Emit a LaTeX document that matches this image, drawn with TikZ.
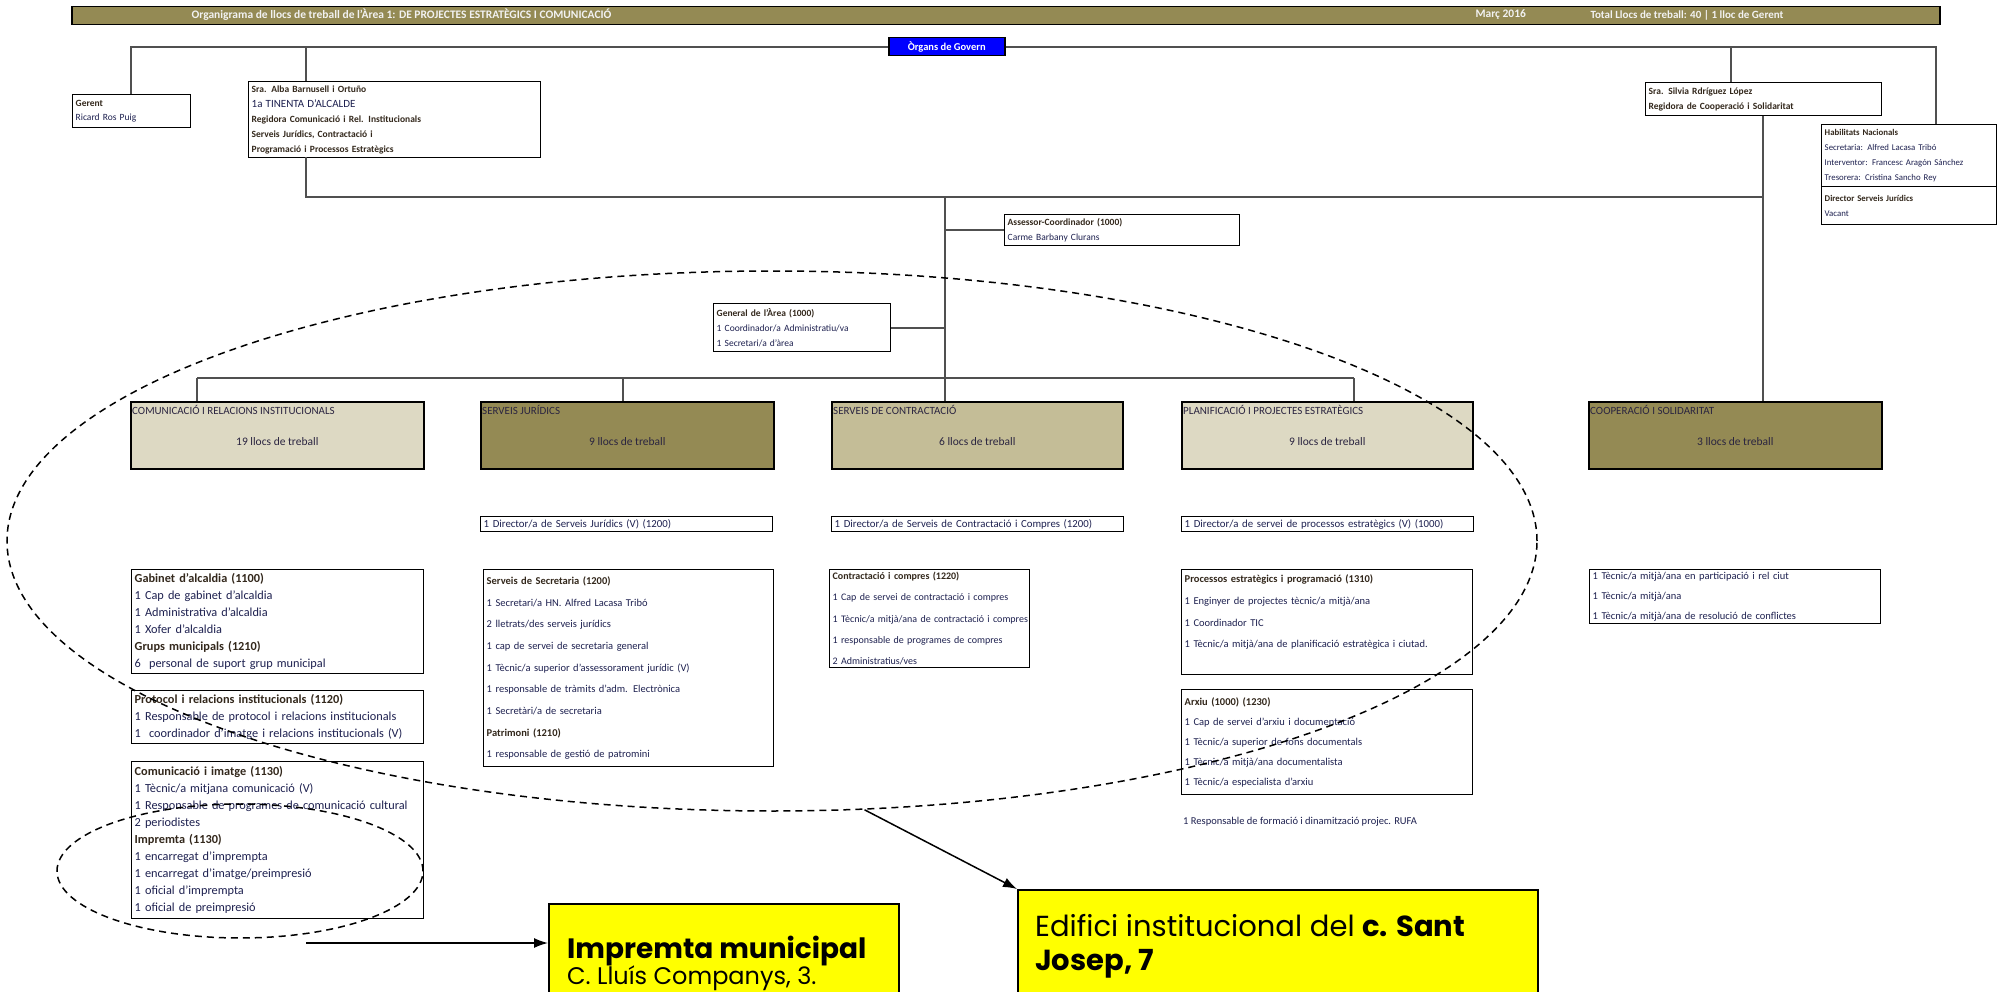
\documentclass[tikz,border=0pt]{standalone}
\usepackage{fontspec}
\setmainfont{Carlito}
\newfontfamily\gothicfont{Poppins}
\usetikzlibrary{arrows.meta,shapes.geometric}
\definecolor{cOlive}{HTML}{948A54}
\definecolor{cBeige}{HTML}{DDD9C3}
\definecolor{cTan}{HTML}{C4BD97}
\definecolor{cConn}{HTML}{505050}
\definecolor{cHead}{HTML}{33281C}
\definecolor{cItem}{HTML}{1E2150}
\definecolor{cTitle}{HTML}{2A2440}
\definecolor{cYellow}{HTML}{FFFF00}
\definecolor{cBlue}{HTML}{0000FF}
\newcommand\hdr[1]{{\bfseries\color{cHead}#1}}
\begin{document}
\begin{tikzpicture}[x=1pt,y=-1pt,
  conn/.style={draw=cConn,line width=2pt},
  tb/.style n args={3}{draw=black,line width=1.4pt,anchor=north west,minimum width=#1,minimum height=#2,text width=#3,align=left,inner xsep=3pt,inner ysep=2pt,text=cItem},
  big/.style={draw=black,line width=1.6pt,anchor=north west,minimum height=67,inner sep=0pt},
  ttl/.style={anchor=north west,inner xsep=2pt,inner ysep=4pt,text=cTitle,font=\fontsize{11}{13}\selectfont},
  cnt/.style={text=cTitle,font=\fontsize{11.5}{13}\selectfont},
  small/.style={font=\fontsize{9.5}{14.5}\selectfont},
  lbig/.style={font=\fontsize{12.3}{17}\selectfont},
  lmid/.style={font=\fontsize{10.5}{21.7}\selectfont},
  hdrtext/.style={anchor=west,text=white!95!black,font=\fontsize{11.5}{13}\selectfont\bfseries},
  arr/.style={draw=black,line width=1.5pt,-{Latex[length=14pt,width=10pt]}},
  ell/.style={draw=black,dash pattern=on 7pt off 5pt,line width=1.5pt,ellipse,inner sep=0pt},
  ybox/.style={draw=black,line width=1.6pt,fill=cYellow,anchor=north west,minimum height=130,inner sep=0pt}
]
\fill[white] (0,0) rectangle (1998,992);
\useasboundingbox (0,0) rectangle (1998,992);

% header
\node[draw=black,line width=1.5pt,fill=cOlive,anchor=north west,minimum width=1868,minimum height=18,inner sep=0pt] (hdr) at (71,6) {};
\node[hdrtext] (hdrA) at (188,15) {Organigrama de llocs de treball de l'Àrea 1: DE PROJECTES ESTRATÈGICS I COMUNICACIÓ};
\node[hdrtext] (hdrB) at (1472,15) {Març 2016};
\node[hdrtext,font=\fontsize{11}{13}\selectfont\bfseries] (hdrC) at (1587,15) {Total Llocs de treball: 40 | 1 lloc de Gerent};

% top level
\node[draw=black,line width=1.5pt,fill=cBlue,anchor=north west,minimum width=116,minimum height=18,inner sep=0pt,text=white,font=\fontsize{10.5}{12}\selectfont\bfseries] (organs) at (888,37) {Òrgans de Govern};
\node[tb={118}{33}{112},small] (gerent) at (72,94) {\hdr{Gerent}\\Ricard Ros Puig};
\node[tb={292}{76}{286},font=\fontsize{9.5}{15}\selectfont] (alba) at (248,81) {\hdr{Sra. Alba Barnusell i Ortuño}\\{\fontsize{11}{14}\selectfont 1a TINENTA D'ALCALDE}\\\hdr{Regidora Comunicació i Rel. Institucionals}\\\hdr{Serveis Jurídics, Contractació i}\\\hdr{Programació i Processos Estratègics}};
\node[tb={236}{33}{230},font=\fontsize{9.5}{15}\selectfont] (silvia) at (1645,82) {\hdr{Sra. Silvia Rdríguez López}\\\hdr{Regidora de Cooperació i Solidaritat}};
\node[tb={175}{62}{169},font=\fontsize{8.8}{15}\selectfont] (habilA) at (1821,124) {\hdr{Habilitats Nacionals}\\Secretaria: Alfred Lacasa Tribó\\Interventor: Francesc Aragón Sánchez\\Tresorera: Cristina Sancho Rey};
\node[tb={175}{38}{169},font=\fontsize{8.8}{15}\selectfont] (habilB) at (1821,186) {\hdr{Director Serveis Jurídics}\\Vacant};
\node[tb={235}{31}{229},small] (assessor) at (1004,214) {\hdr{Assessor-Coordinador (1000)}\\Carme Barbany Clurans};
\node[tb={177}{48}{171},font=\fontsize{9.5}{15}\selectfont] (general) at (713,303) {\hdr{General de l'Àrea (1000)}\\1 Coordinador/a Administratiu/va\\1 Secretari/a d'àrea};

% area boxes
\node[big,fill=cBeige,minimum width=293] (com) at (130,401) {};
\node[ttl] (comT) at (com.north west) {COMUNICACIÓ I RELACIONS INSTITUCIONALS};
\node[cnt] (comN) at ([yshift=-6pt]com.center) {19 llocs de treball};
\node[big,fill=cOlive,minimum width=293] (jur) at (480,401) {};
\node[ttl] (jurT) at (jur.north west) {SERVEIS JURÍDICS};
\node[cnt] (jurN) at ([yshift=-6pt]jur.center) {9 llocs de treball};
\node[big,fill=cTan,minimum width=291] (contr) at (831,401) {};
\node[ttl] (contrT) at (contr.north west) {SERVEIS DE CONTRACTACIÓ};
\node[cnt] (contrN) at ([yshift=-6pt]contr.center) {6 llocs de treball};
\node[big,fill=cBeige,minimum width=291] (plan) at (1181,401) {};
\node[ttl] (planT) at (plan.north west) {PLANIFICACIÓ I PROJECTES ESTRATÈGICS};
\node[cnt] (planN) at ([yshift=-6pt]plan.center) {9 llocs de treball};
\node[big,fill=cOlive,minimum width=293] (coop) at (1588,401) {};
\node[ttl] (coopT) at (coop.north west) {COOPERACIÓ I SOLIDARITAT};
\node[cnt] (coopN) at ([yshift=-6pt]coop.center) {3 llocs de treball};

% directors
\node[tb={292}{15}{286},inner ysep=0pt,font=\fontsize{10.8}{12}\selectfont] (dirA) at (480,516) {1 Director/a de Serveis Jurídics (V) (1200)};
\node[tb={292}{15}{286},inner ysep=0pt,font=\fontsize{10.8}{12}\selectfont] (dirB) at (831,516) {1 Director/a de Serveis de Contractació i Compres (1200)};
\node[tb={292}{15}{286},inner ysep=0pt,font=\fontsize{10.8}{12}\selectfont] (dirC) at (1181,516) {1 Director/a de servei de processos estratègics (V) (1000)};

% lower boxes
\node[tb={292}{104}{286},lbig] (gab) at (131,569) {\hdr{Gabinet d'alcaldia (1100)}\\1 Cap de gabinet d'alcaldia\\1 Administrativa d'alcaldia\\1 Xofer d'alcaldia\\\hdr{Grups municipals (1210)}\\6\ \ personal de suport grup municipal};
\node[tb={292}{53}{286},lbig] (prot) at (131,690) {\hdr{Protocol i relacions institucionals (1120)}\\\mbox{1 Responsable de protocol i relacions institucionals}\\\mbox{1\ \ coordinador d'imatge i relacions institucionals (V)}};
\node[tb={292}{157}{286},lbig] (comu) at (131,761) {\hdr{Comunicació i imatge (1130)}\\1 Tècnic/a mitjana comunicació (V)\\\mbox{1 Responsable de programes de comunicació cultural}\\2 periodistes\\\hdr{Impremta (1130)}\\1 encarregat d'imprempta\\1 encarregat d'imatge/preimpresió\\1 oficial d'imprempta\\1 oficial de preimpresió};
\node[tb={290}{197}{284},lmid] (secr) at (483,569) {\hdr{Serveis de Secretaria (1200)}\\1 Secretari/a HN. Alfred Lacasa Tribó\\2 lletrats/des serveis jurídics\\1 cap de servei de secretaria general\\1 Tècnic/a superior d'assessorament jurídic (V)\\1 responsable de tràmits d'adm. Electrònica\\1 Secretàri/a de secretaria\\\hdr{Patrimoni (1210)}\\1 responsable de gestió de patromini};
\node[tb={200}{98}{194},font=\fontsize{10}{21.3}\selectfont] (compres) at (829,569) {\hdr{Contractació i compres (1220)}\\\mbox{1 Cap de servei de contractació i compres}\\\mbox{1 Tècnic/a mitjà/ana de contractació i compres}\\\mbox{1 responsable de programes de compres}\\2 Administratius/ves};
\node[tb={291}{105}{285},lmid] (proc) at (1181,569) {\hdr{Processos estratègics i programació (1310)}\\1 Enginyer de projectes tècnic/a mitjà/ana\\1 Coordinador TIC\\\mbox{1 Tècnic/a mitjà/ana de planificació estratègica i ciutad.}\\\mbox{}};
\node[tb={291}{105}{285},font=\fontsize{10.5}{20}\selectfont] (arxiu) at (1181,689) {\hdr{Arxiu (1000) (1230)}\\1 Cap de servei d'arxiu i documentació\\1 Tècnic/a superior de fons documentals\\1 Tècnic/a mitjà/ana documentalista\\1 Tècnic/a especialista d'arxiu};
\node[tb={291}{54}{285},font=\fontsize{10.5}{20.4}\selectfont] (coopl) at (1589,569) {1 Tècnic/a mitjà/ana en participació i rel ciut\\1 Tècnic/a mitjà/ana\\1 Tècnic/a mitjà/ana de resolució de conflictes};
\node[anchor=west,text=cItem,font=\fontsize{10.5}{12}\selectfont,inner xsep=2pt] (rufa) at (1181,822) {1 Responsable de formació i dinamització projec. RUFA};

% connectors
\coordinate (albaT) at (306,81);
\coordinate (silT) at (1731,82);
\coordinate (habT) at (1936,124);
\coordinate (gerT) at (131,94);
\draw[conn] (organs.west) -- (organs.west -| gerT) -- (gerT);
\draw[conn] (albaT) -- (albaT |- organs.west);
\draw[conn] (organs.east) -- (organs.east -| habT) -- (habT);
\draw[conn] (silT) -- (silT |- organs.east);
\coordinate (albaB) at (306,157);
\coordinate (jA) at (306,197);
\coordinate (silB) at (1763,116);
\coordinate (jB) at (1763,197);
\coordinate (cA) at (945,197);
\draw[conn] (albaB) -- (jA) -- (jB);
\draw[conn] (silB) -- (silB |- coop.north);
\draw[conn] (cA) -- (cA |- contr.north);
\draw[conn] (assessor.west) -- (assessor.west -| cA);
\draw[conn] (general.east) -- (general.east -| cA);
\coordinate (bA) at (197,378);
\coordinate (bB) at (623,378);
\coordinate (bC) at (1354,378);
\draw[conn] (bA) -- (bC);
\draw[conn] (bA) -- (bA |- com.north);
\draw[conn] (bB) -- (bB |- jur.north);
\draw[conn] (bC) -- (bC |- plan.north);

% ellipses
\node[ell,minimum width=1530,minimum height=540] (bigell) at (772,541) {};
\node[ell,minimum width=366,minimum height=134] (smell) at (240,871) {};

% yellow boxes
\node[ybox,minimum width=350] (imp) at (548,903) {};
\node[anchor=west,font=\gothicfont\fontsize{28}{31}\selectfont\bfseries,inner sep=0pt] (impA) at (567,951) {Impremta municipal};
\node[anchor=west,font=\gothicfont\fontsize{24}{27}\selectfont,inner sep=0pt] (impB) at (567,978) {C. Lluís Companys, 3.};
\node[ybox,minimum width=520] (edif) at (1017,889) {};
\node[anchor=west,font=\gothicfont\fontsize{29}{32}\selectfont,inner sep=0pt] (edA) at (1035,926) {Edifici institucional del \textbf{c. Sant}};
\node[anchor=west,font=\gothicfont\fontsize{29}{32}\selectfont\bfseries,inner sep=0pt] (edB) at (1035,964) {Josep, 7};

% arrows
\coordinate (smA) at (306,943);
\draw[arr] (smA) -- (smA -| imp.west);
\draw[arr] (bigell.-71) -- (edif.north west);
\end{tikzpicture}
\end{document}
